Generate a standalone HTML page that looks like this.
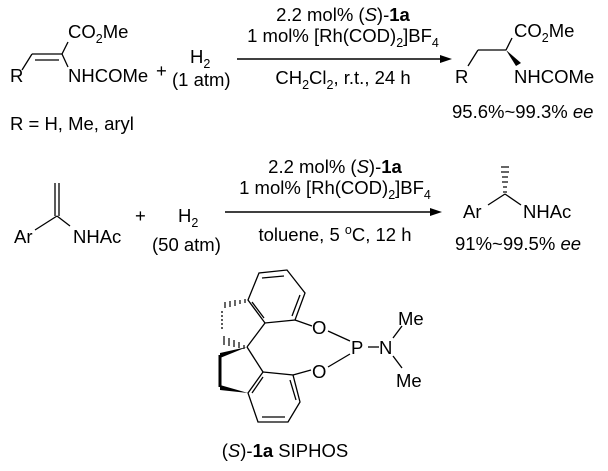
<!DOCTYPE html>
<html><head><style>
html,body{margin:0;padding:0;background:#fff;}
svg{display:block;}
text{font-family:"Liberation Sans",Arial,sans-serif;font-size:18.5px;fill:#000;}
.s{font-size:12.5px;}
</style></head><body>
<svg width="608" height="471" viewBox="0 0 608 471" xmlns="http://www.w3.org/2000/svg">
<g stroke="#000" stroke-width="1.3" fill="none">
<line x1="22" y1="70" x2="32" y2="54"/>
<line x1="32" y1="54" x2="62" y2="54"/>
<line x1="35" y1="60" x2="59" y2="60"/>
<line x1="62" y1="54" x2="68" y2="42"/>
<line x1="62" y1="54" x2="68" y2="67"/>
<line x1="237" y1="59" x2="446" y2="59" stroke-width="1.6"/>
<line x1="468" y1="66" x2="478" y2="50"/>
<line x1="478" y1="50" x2="506" y2="50"/>
<line x1="506" y1="50" x2="512" y2="38"/>
<line x1="35" y1="230" x2="57" y2="216"/>
<line x1="55" y1="216" x2="55" y2="183"/>
<line x1="59" y1="216" x2="59" y2="183"/>
<line x1="57" y1="216" x2="70" y2="226"/>
<line x1="225" y1="212" x2="436" y2="212" stroke-width="1.6"/>
<line x1="488" y1="205" x2="505" y2="194"/>
<line x1="505" y1="194" x2="521" y2="205"/>
<polygon points="248,300 259,273 287,270 305,293 295,320 265,323"/>
<line x1="262" y1="278" x2="284" y2="276"/>
<line x1="300" y1="295" x2="292" y2="316"/>
<line x1="252" y1="302" x2="264" y2="318"/>
<line x1="295" y1="320" x2="312" y2="326"/>
<line x1="265" y1="323" x2="247" y2="347"/>
<polygon points="263,372 293,375 300,402 288,422 258,422 248,393"/>
<line x1="290" y1="380" x2="296" y2="400"/>
<line x1="262" y1="417" x2="285" y2="417"/>
<line x1="252" y1="393" x2="263" y2="377"/>
<line x1="247" y1="347" x2="263" y2="372"/>
<line x1="293" y1="375" x2="311" y2="370"/>
<line x1="328" y1="331" x2="350" y2="341"/>
<line x1="328" y1="367" x2="350" y2="354"/>
<line x1="368" y1="347" x2="379" y2="347"/>
<line x1="393" y1="338" x2="402" y2="326"/>
<line x1="393" y1="356" x2="402" y2="368"/>
<line x1="222" y1="311" x2="222" y2="331" stroke-dasharray="2,2"/>
<line x1="220" y1="355" x2="220" y2="387" stroke-width="3"/>
</g>
<polygon points="506,50 516,66 521,63" fill="#000"/>
<polygon points="247,347 220,353 220,358" fill="#000"/>
<polygon points="220,385 248,393 220,390" fill="#000"/>
<g stroke="#000" stroke-width="1.2">
<line x1="503" y1="192" x2="507" y2="192"/><line x1="503" y1="187" x2="507" y2="187"/>
<line x1="502" y1="182" x2="508" y2="182"/><line x1="502" y1="177" x2="508" y2="177"/>
<line x1="501" y1="172" x2="509" y2="172"/><line x1="501" y1="167" x2="509" y2="167"/>
<line x1="245" y1="299" x2="245" y2="303"/><line x1="240" y1="300" x2="240" y2="304"/>
<line x1="235" y1="300" x2="235" y2="306"/><line x1="230" y1="301" x2="230" y2="307"/>
<line x1="225" y1="302" x2="225" y2="308"/>
<line x1="244" y1="345" x2="244" y2="349"/><line x1="239" y1="342" x2="239" y2="348"/>
<line x1="234" y1="340" x2="234" y2="347"/><line x1="229" y1="338" x2="229" y2="346"/>
<line x1="224" y1="336" x2="224" y2="345"/>
</g>
<text x="68" y="38">CO<tspan class="s" dy="5">2</tspan><tspan dy="-5">Me</tspan></text>
<text x="68" y="82">NHCOMe</text>
<text x="10" y="82">R</text>
<text x="156" y="77" font-size="21">+</text>
<text x="190" y="63">H<tspan class="s" dy="5">2</tspan></text>
<text x="172" y="86">(1 atm)</text>
<text x="343" y="21" text-anchor="middle">2.2 mol% (<tspan font-style="italic">S</tspan>)-<tspan font-weight="bold">1a</tspan></text>
<text x="343" y="42" text-anchor="middle">1 mol% [Rh(COD)<tspan class="s" dy="5">2</tspan><tspan dy="-5">]BF</tspan><tspan class="s" dy="5">4</tspan></text>
<text x="343" y="84" text-anchor="middle">CH<tspan class="s" dy="5">2</tspan><tspan dy="-5">Cl</tspan><tspan class="s" dy="5">2</tspan><tspan dy="-5">, r.t., 24 h</tspan></text>
<text x="10" y="130">R = H, Me, aryl</text>
<text x="455" y="83">R</text>
<text x="514" y="37">CO<tspan class="s" dy="5">2</tspan><tspan dy="-5">Me</tspan></text>
<text x="514" y="83">NHCOMe</text>
<text x="452" y="118">95.6%~99.3% <tspan font-style="italic">ee</tspan></text>
<text x="14" y="243">Ar</text>
<text x="73" y="243">NHAc</text>
<text x="135" y="222" font-size="21">+</text>
<text x="178" y="222">H<tspan class="s" dy="5">2</tspan></text>
<text x="152" y="251">(50 atm)</text>
<text x="335" y="173" text-anchor="middle">2.2 mol% (<tspan font-style="italic">S</tspan>)-<tspan font-weight="bold">1a</tspan></text>
<text x="335" y="194" text-anchor="middle">1 mol% [Rh(COD)<tspan class="s" dy="5">2</tspan><tspan dy="-5">]BF</tspan><tspan class="s" dy="5">4</tspan></text>
<text x="335" y="241" text-anchor="middle">toluene, 5 <tspan class="s" dy="-7">o</tspan><tspan dy="7">C, 12 h</tspan></text>
<text x="463" y="218">Ar</text>
<text x="523" y="218">NHAc</text>
<text x="455" y="250">91%~99.5% <tspan font-style="italic">ee</tspan></text>
<text x="312" y="334">O</text>
<text x="312" y="378">O</text>
<text x="351" y="354">P</text>
<text x="379" y="354">N</text>
<text x="398" y="325">Me</text>
<text x="396" y="387">Me</text>
<text x="285" y="457" text-anchor="middle">(<tspan font-style="italic">S</tspan>)-<tspan font-weight="bold">1a</tspan> SIPHOS</text>
<polygon points="452,59 440,55 440,63" fill="#000"/>
<polygon points="442,212 430,208 430,216" fill="#000"/>
</svg>
</body></html>
